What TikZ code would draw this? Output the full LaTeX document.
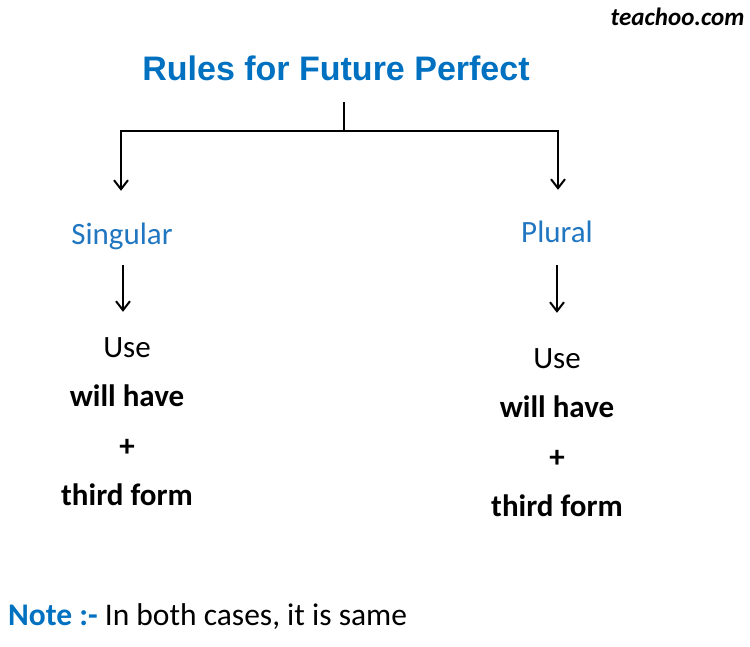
\documentclass[tikz,border=0pt]{standalone}
\usepackage{fontspec}
\setmainfont{Carlito}
\newfontfamily\headfont{Liberation Sans}
\usetikzlibrary{positioning, calc}
\usetikzlibrary{arrows.meta}
\definecolor{ruleblue}{RGB}{0,112,192}
\definecolor{branchblue}{RGB}{32,118,192}
\tikzstyle{heading} = [font=\headfont\bfseries\fontsize{34}{40}\selectfont, text=ruleblue, inner sep=0pt]
\tikzstyle{branch} = [font=\fontsize{31}{37}\selectfont, text=branchblue, inner sep=0pt, text height=22pt, text depth=7pt]
\tikzstyle{rule} = [font=\fontsize{31}{37}\selectfont, inner sep=0pt, text height=22pt, text depth=6pt]
\tikzstyle{line} = [draw, line width=2pt, -{Straight Barb[length=9pt,width=14pt,line width=2pt]}]
\begin{document}
\begin{tikzpicture}[x=1pt, y=-1pt, node distance=49.5pt]
  \useasboundingbox (0,0) rectangle (750,647);
   % Place nodes
    \node [font=\bfseries\itshape\fontsize{25}{28}\selectfont, anchor=base east] (site) at (748,26) {teachoo.com};
    \node [heading, anchor=base] (title) at (336,81) {Rules for Future Perfect};
    \coordinate (stem) at (344,102);
    \coordinate (fork) at (344,131);
    \node [branch, anchor=base] (singular) at (122,245) {Singular};
    \node [branch, anchor=base] (plural) at (557,243) {Plural};
    % left column
    \node [rule] (luse) at (127,349) {Use};
    \node [rule, below of=luse] (lwill) {\bfseries will have};
    \node [rule, below of=lwill] (lplus) {\bfseries +};
    \node [rule, below of=lplus] (lform) {\bfseries third form};
    % right column
    \node [rule] (ruse) at (557,360) {Use};
    \node [rule, below of=ruse] (rwill) {\bfseries will have};
    \node [rule, below of=rwill] (rplus) {\bfseries +};
    \node [rule, below of=rplus] (rform) {\bfseries third form};
    \node [font=\fontsize{31.5}{37}\selectfont, inner sep=0pt, anchor=base west] (note) at (8,625)
      {{\color{ruleblue}\bfseries Note :-} In both cases, it is same};
   % Draw edges
    \draw [line width=2pt] (stem) -- (fork);
    \path [line, shorten >=32pt] (fork) -| ([xshift=-1pt]singular.north);
    \path [line, shorten >=31pt] (fork) -| ([xshift=1pt]plural.north);
    \path [line, shorten <=13pt, shorten >=23pt] ([xshift=1pt]singular.south) -- ([xshift=1pt]singular.south |- luse.north);
    \path [line, shorten <=15pt, shorten >=33pt] (plural.south) -- (plural.south |- ruse.north);
\end{tikzpicture}
\end{document}
